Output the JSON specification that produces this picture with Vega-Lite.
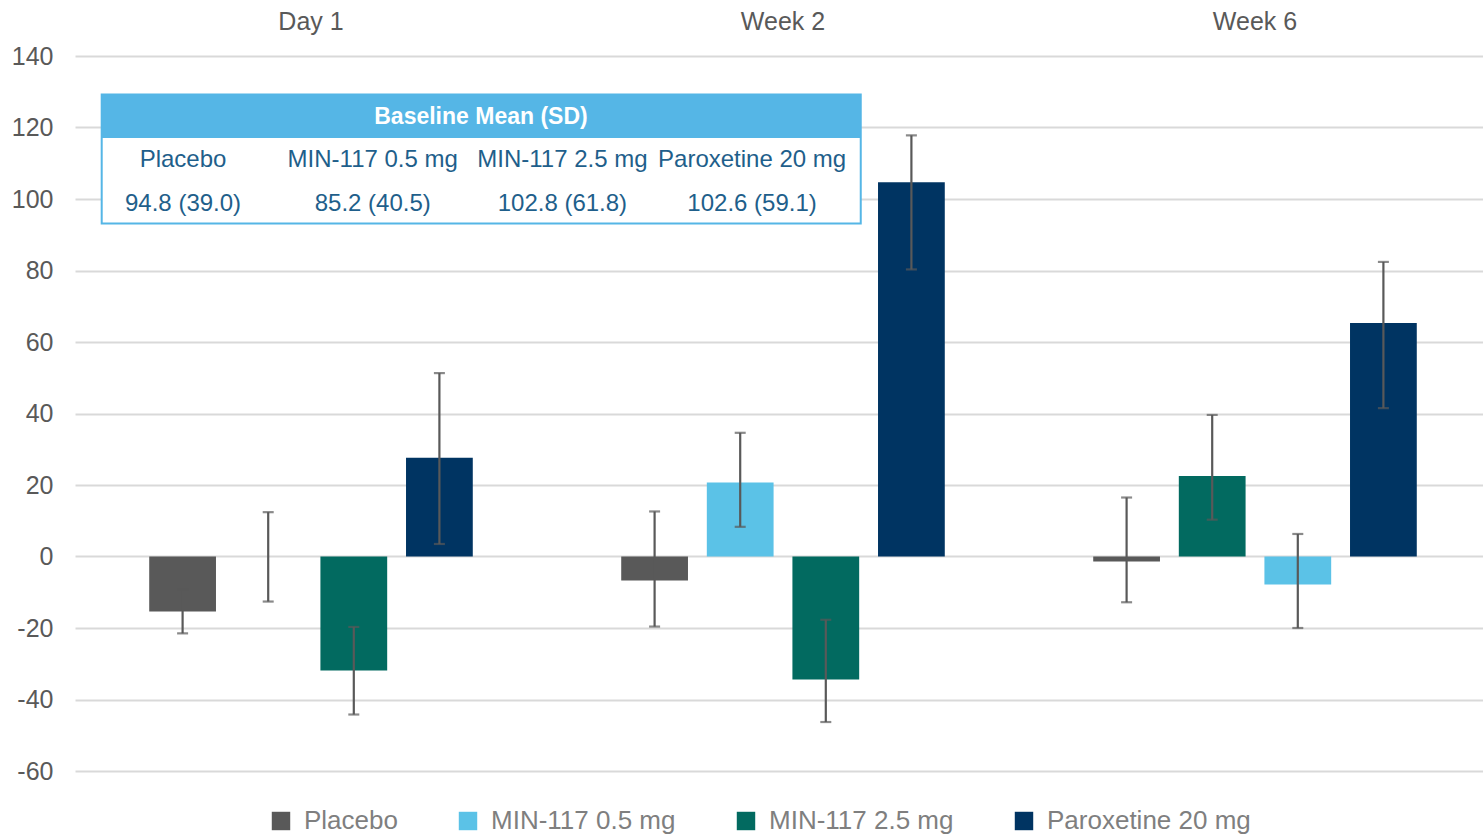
{
  "$schema": "https://vega.github.io/schema/vega-lite/v6.json",
  "width": 1404,
  "height": 715,
  "autosize": {"type": "none"},
  "padding": {"left": 79, "top": 56, "right": 0, "bottom": 64},
  "background": "white",
  "config": {
    "view": {"stroke": null},
    "font": "Liberation Sans",
    "text": {"font": "Liberation Sans"}
  },
  "datasets": {
    "change": [
      {"group": "Day 1", "slot": 1, "series": "Placebo", "value": -15.4, "lo": -21.5, "hi": -9.3},
      {"group": "Day 1", "slot": 2, "series": "MIN-117 0.5 mg", "value": 0.0, "lo": -12.6, "hi": 12.4},
      {"group": "Day 1", "slot": 3, "series": "MIN-117 2.5 mg", "value": -31.9, "lo": -44.2, "hi": -19.7},
      {"group": "Day 1", "slot": 4, "series": "Paroxetine 20 mg", "value": 27.6, "lo": 3.5, "hi": 51.3},
      {"group": "Week 2", "slot": 1, "series": "Placebo", "value": -6.7, "lo": -19.6, "hi": 12.6},
      {"group": "Week 2", "slot": 2, "series": "MIN-117 0.5 mg", "value": 20.7, "lo": 8.3, "hi": 34.6},
      {"group": "Week 2", "slot": 3, "series": "MIN-117 2.5 mg", "value": -34.4, "lo": -46.3, "hi": -17.7},
      {"group": "Week 2", "slot": 4, "series": "Paroxetine 20 mg", "value": 104.7, "lo": 80.3, "hi": 117.8},
      {"group": "Week 6", "slot": 1, "series": "Placebo", "value": -1.4, "lo": -12.8, "hi": 16.5},
      {"group": "Week 6", "slot": 2, "series": "MIN-117 2.5 mg", "value": 22.5, "lo": 10.3, "hi": 39.6},
      {"group": "Week 6", "slot": 3, "series": "MIN-117 0.5 mg", "value": -7.8, "lo": -20.0, "hi": 6.3},
      {"group": "Week 6", "slot": 4, "series": "Paroxetine 20 mg", "value": 65.3, "lo": 41.5, "hi": 82.4}
    ],
    "baseline": [
      {"series": "Placebo", "label": "94.8 (39.0)"},
      {"series": "MIN-117 0.5 mg", "label": "85.2 (40.5)"},
      {"series": "MIN-117 2.5 mg", "label": "102.8 (61.8)"},
      {"series": "Paroxetine 20 mg", "label": "102.6 (59.1)"}
    ]
  },
  "layer": [
    {
      "data": {"name": "change"},
      "encoding": {
        "x": {
          "field": "group",
          "type": "nominal",
          "sort": ["Day 1", "Week 2", "Week 6"],
          "scale": {"range": [-4, 1412], "paddingInner": 0, "paddingOuter": 0},
          "axis": {
            "orient": "top",
            "title": null,
            "labelAngle": 0,
            "ticks": false,
            "tickSize": 0,
            "domain": false,
            "grid": false,
            "labelFont": "Liberation Sans",
            "labelFontSize": 25,
            "labelColor": "#595959",
            "labelPadding": 27,
            "labelBaseline": "alphabetic"
          }
        },
        "xOffset": {
          "field": "slot",
          "type": "ordinal",
          "scale": {"paddingInner": 0.22, "paddingOuter": 0.867}
        }
      },
      "layer": [
        {
          "mark": {"type": "bar"},
          "encoding": {
            "y": {
              "field": "value",
              "type": "quantitative",
              "title": null,
              "scale": {"domain": [-60, 140], "nice": false},
              "axis": {
                "title": null,
                "values": [-60, -40, -20, 0, 20, 40, 60, 80, 100, 120, 140],
                "labelExpr": "toString(datum.value)",
                "grid": true,
                "gridColor": "#d9d9d9",
                "gridWidth": 2,
                "ticks": false,
                "tickSize": 0,
                "domain": false,
                "labelFont": "Liberation Sans",
                "labelFontSize": 25,
                "labelColor": "#595959",
                "labelPadding": 26
              }
            },
            "y2": {"datum": 0},
            "color": {
              "field": "series",
              "type": "nominal",
              "scale": {
                "domain": ["Placebo", "MIN-117 0.5 mg", "MIN-117 2.5 mg", "Paroxetine 20 mg"],
                "range": ["#595959", "#5BC2E7", "#026A60", "#003462"]
              },
              "legend": {
                "orient": "none",
                "legendX": 189,
                "legendY": 752,
                "direction": "horizontal",
                "title": null,
                "symbolType": "square",
                "symbolSize": 340,
                "symbolStrokeWidth": 0,
                "labelFont": "Liberation Sans",
                "labelFontSize": 26,
                "labelColor": "#7f7f7f",
                "labelLimit": 400,
                "labelOffset": 10,
                "columnPadding": 57
              }
            }
          }
        },
        {
          "mark": {"type": "rule", "color": "#595959", "strokeWidth": 2.2},
          "encoding": {
            "y": {"field": "lo", "type": "quantitative", "title": null},
            "y2": {"field": "hi"}
          }
        },
        {
          "mark": {"type": "tick", "color": "#595959", "size": 11, "thickness": 2.2},
          "encoding": {
            "y": {"field": "lo", "type": "quantitative", "title": null}
          }
        },
        {
          "mark": {"type": "tick", "color": "#595959", "size": 11, "thickness": 2.2},
          "encoding": {
            "y": {"field": "hi", "type": "quantitative", "title": null}
          }
        }
      ]
    },
    {
      "data": {"values": [{}]},
      "encoding": {
        "x": {"datum": 1.617, "type": "quantitative", "scale": {"domain": [0, 100], "nice": false, "zero": false}, "axis": null},
        "x2": {"datum": 55.68}
      },
      "layer": [
        {
          "mark": {"type": "rect", "fill": "white", "stroke": "#55B6E6", "strokeWidth": 2},
          "encoding": {
            "y": {"datum": 129.25, "type": "quantitative", "title": null},
            "y2": {"datum": 93.13}
          }
        },
        {
          "mark": {"type": "rect", "fill": "#55B6E6"},
          "encoding": {
            "y": {"datum": 129.25, "type": "quantitative", "title": null},
            "y2": {"datum": 117.04}
          }
        }
      ]
    },
    {
      "data": {"values": [{}]},
      "mark": {"type": "text", "text": "Baseline Mean (SD)", "font": "Liberation Sans", "fontWeight": "bold", "fontSize": 23, "color": "white", "align": "center", "baseline": "middle"},
      "encoding": {
        "x": {"datum": 28.63, "type": "quantitative", "scale": {"domain": [0, 100], "nice": false, "zero": false}, "axis": null},
        "y": {"datum": 122.97, "type": "quantitative", "title": null}
      }
    },
    {
      "data": {"name": "baseline"},
      "encoding": {
        "x": {
          "field": "series",
          "type": "nominal",
          "scale": {
            "type": "point",
            "domain": ["Placebo", "MIN-117 0.5 mg", "MIN-117 2.5 mg", "Paroxetine 20 mg"],
            "padding": 0,
            "range": [{"expr": "width * 0.0741"}, {"expr": "width * 0.4794"}]
          },
          "axis": null
        }
      },
      "layer": [
        {
          "mark": {"type": "text", "font": "Liberation Sans", "fontSize": 24, "color": "#1F5F8B", "align": "center", "baseline": "middle"},
          "encoding": {
            "y": {"datum": 110.8, "type": "quantitative", "title": null},
            "text": {"field": "series"}
          }
        },
        {
          "mark": {"type": "text", "font": "Liberation Sans", "fontSize": 24, "color": "#1F5F8B", "align": "center", "baseline": "middle"},
          "encoding": {
            "y": {"datum": 98.7, "type": "quantitative", "title": null},
            "text": {"field": "label"}
          }
        }
      ]
    }
  ],
  "resolve": {"scale": {"x": "independent"}}
}
